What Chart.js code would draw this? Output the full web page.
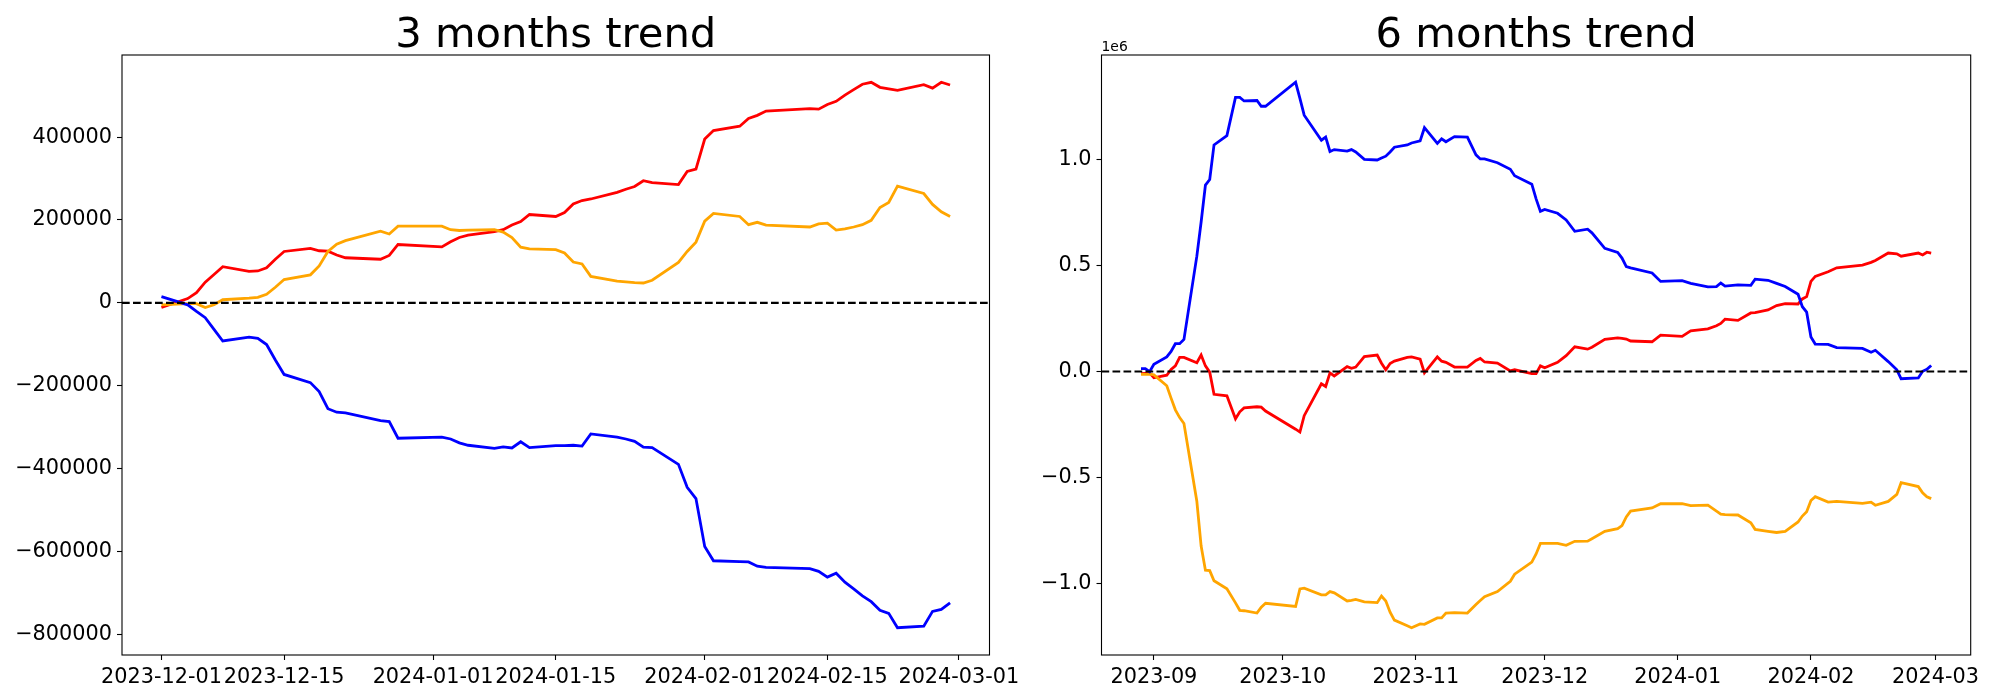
<!DOCTYPE html>
<html>
<head>
<meta charset="utf-8">
<script src="https://cdn.jsdelivr.net/npm/chart.js@4.4.1/dist/chart.umd.min.js"></script>
<style>
  html, body { margin: 0; padding: 0; background: #fff; }
  body { width: 2000px; height: 700px; position: relative; overflow: hidden; }
  canvas { position: absolute; top: 0; }
  #left { left: 0; }
  #right { left: 1000px; }
</style>
</head>
<body>
<canvas id="left" width="1040" height="700"></canvas>
<canvas id="right" width="1000" height="700"></canvas>
<script>
// ---- 3 months ----
const dates3m = [
  '2023-12-01', '2023-12-04', '2023-12-05', '2023-12-06', '2023-12-07', '2023-12-08',
  '2023-12-11', '2023-12-12', '2023-12-13', '2023-12-14', '2023-12-15',
  '2023-12-18', '2023-12-19', '2023-12-20', '2023-12-21', '2023-12-22',
  '2023-12-26', '2023-12-27', '2023-12-28',
  '2024-01-02', '2024-01-03', '2024-01-04', '2024-01-05',
  '2024-01-08', '2024-01-09', '2024-01-10', '2024-01-11', '2024-01-12',
  '2024-01-15', '2024-01-16', '2024-01-17', '2024-01-18', '2024-01-19',
  '2024-01-22', '2024-01-23', '2024-01-24', '2024-01-25', '2024-01-26',
  '2024-01-29', '2024-01-30', '2024-01-31', '2024-02-01', '2024-02-02',
  '2024-02-05', '2024-02-06', '2024-02-07', '2024-02-08',
  '2024-02-13', '2024-02-14', '2024-02-15', '2024-02-16', '2024-02-17', '2024-02-18',
  '2024-02-19', '2024-02-20', '2024-02-21', '2024-02-22', '2024-02-23',
  '2024-02-26', '2024-02-27', '2024-02-28', '2024-02-29'
];
const red3m = [
  -11300, 10300, 24400, 49800, 68500, 87300,
  76100, 77000, 84500, 105200, 124000,
  131500, 125800, 124900, 115500, 108900,
  105200, 114500, 140900,
  135200, 147400, 157800, 163400,
  171800, 176500, 187800, 196300, 213200,
  208500, 217900, 238500, 247000, 250700,
  266700, 274200, 280800, 294800, 290200,
  285500, 317400, 323000, 395300, 416000,
  426300, 445000, 452600, 462900,
  468600, 467600, 478900, 486400, 501400, 514600,
  527700, 532400, 520200, 516500, 512700,
  526800, 518300, 532400, 525800
];
const orange3m = [
  -4700, -1900, -1900, -11300, -4700, 7500,
  11300, 13100, 20700, 37600, 56300,
  67600, 89200, 124000, 141800, 150200,
  172800, 166200, 185000,
  185000, 176500, 174700, 175600,
  176500, 170900, 157800, 134300, 130500,
  128600, 120200, 98600, 93900, 63900,
  52600, 50700, 48800, 47900, 54500,
  97700, 124000, 146500, 197200, 216000,
  208500, 188700, 194400, 187800,
  183100, 190600, 192500, 175600, 178400, 183100,
  188700, 199100, 230000, 242300, 281700,
  263900, 237600, 219700, 208500
];
const blue3m = [
  15000, -4700, -20700, -35700, -63900, -92000,
  -82600, -85400, -100500, -138000, -172800,
  -192500, -214100, -255400, -263900, -265700,
  -284500, -286400, -326800,
  -324000, -328600, -338000, -343700,
  -351200, -347400, -350200, -335200, -349300,
  -344600, -344600, -343700, -345600, -316400,
  -324000, -328600, -334300, -348400, -349300,
  -389700, -445100, -472300, -587800, -622500,
  -624400, -625400, -635700, -638500,
  -641300, -647900, -662000, -652600, -674200, -690200,
  -707100, -721200, -741800, -749300, -784100,
  -780300, -744700, -740000, -724000
];
const xTicks3m = ['2023-12-01', '2023-12-15', '2024-01-01', '2024-01-15', '2024-02-01', '2024-02-15', '2024-03-01'];
const yTicks3m = [-800000, -600000, -400000, -200000, 0, 200000, 400000];
const yLabels3m = ['\u2212800000', '\u2212600000', '\u2212400000', '\u2212200000', '0', '200000', '400000'];

// ---- 6 months ----
const dates6m = [
  '2023-08-29', '2023-08-30', '2023-08-31', '2023-09-01',
  '2023-09-04', '2023-09-05', '2023-09-06', '2023-09-07', '2023-09-08',
  '2023-09-11', '2023-09-12', '2023-09-13', '2023-09-14', '2023-09-15',
  '2023-09-18', '2023-09-20', '2023-09-21', '2023-09-22',
  '2023-09-25', '2023-09-26', '2023-09-27',
  '2023-10-04', '2023-10-05', '2023-10-06',
  '2023-10-10', '2023-10-11', '2023-10-12', '2023-10-13',
  '2023-10-16', '2023-10-17', '2023-10-18', '2023-10-20',
  '2023-10-23', '2023-10-24', '2023-10-25', '2023-10-26', '2023-10-27',
  '2023-10-30', '2023-10-31', '2023-11-02', '2023-11-03',
  '2023-11-06', '2023-11-07', '2023-11-08', '2023-11-10',
  '2023-11-13', '2023-11-15', '2023-11-16', '2023-11-17',
  '2023-11-20', '2023-11-23', '2023-11-24',
  '2023-11-28', '2023-11-29', '2023-11-30', '2023-12-01',
  '2023-12-04', '2023-12-06', '2023-12-08',
  '2023-12-11', '2023-12-12', '2023-12-15',
  '2023-12-18', '2023-12-19', '2023-12-20', '2023-12-21',
  '2023-12-26', '2023-12-28',
  '2024-01-02', '2024-01-04', '2024-01-08', '2024-01-10', '2024-01-11', '2024-01-12',
  '2024-01-15', '2024-01-18', '2024-01-19',
  '2024-01-22', '2024-01-24', '2024-01-26',
  '2024-01-29', '2024-01-30', '2024-01-31', '2024-02-01', '2024-02-02',
  '2024-02-05', '2024-02-07',
  '2024-02-13', '2024-02-15', '2024-02-16',
  '2024-02-19', '2024-02-21', '2024-02-22',
  '2024-02-26', '2024-02-27', '2024-02-28', '2024-02-29'
];
const blue6m = [
  13400, 13400, -1300, 33500,
  68700, 94000, 130700, 130700, 150900,
  543000, 704000, 878000, 904000, 1067000,
  1111000, 1291000, 1291000, 1274000,
  1276000, 1249000, 1249000,
  1362000, 1286000, 1207000,
  1089000, 1104000, 1036000, 1045000,
  1038000, 1045000, 1034000, 999000,
  996000, 1005000, 1014000, 1034000, 1056000,
  1067000, 1076000, 1086000, 1148000,
  1074000, 1096000, 1082000, 1106000,
  1104000, 1020000, 1001000, 1001000,
  983000, 952000, 922000,
  882000, 813000, 754000, 763000,
  745000, 713600, 660000,
  670000, 653000, 580000,
  561000, 534000, 494000, 488000,
  464000, 424000,
  428000, 415000, 398600, 400000, 416600, 402000,
  407500, 405600, 434900,
  429400, 414700, 400000,
  363400, 304800, 279200, 161900, 129000,
  127200, 112400,
  108800, 90500, 99600,
  46400, 7900, -34300,
  -30600, 500, 9700, 28000
];
const red6m = [
  -10400, -8600, -6800, -30000,
  -17800, 9700, 26200, 66500, 66500,
  40900, 77500, 26200, -3100, -107500,
  -114800, -223000, -190000, -171800,
  -166300, -168000, -186300,
  -272000, -285400, -208300,
  -57800, -70700, -6800, -21400,
  22500, 15200, 20700, 70200,
  77500, 39000, 7900, 37600, 48600,
  66500, 68400, 57400, -6800,
  68400, 48200, 42700, 20700,
  20700, 51900, 61100, 44600,
  39000, 2400, 7900,
  -10400, -10400, 26200, 17000,
  42700, 74300, 116000,
  105000, 114000, 150900,
  158000, 156000, 152700, 143500,
  139900, 171000,
  165500, 191000, 200300, 215000, 226000, 246000,
  240700, 275500, 277300,
  290000, 310300, 319500,
  317600, 341500, 352500, 424000, 447800,
  469800, 488000,
  501000, 513700, 523000,
  557800, 554000, 543000,
  557800, 548600, 561500, 557800
];
const orange6m = [
  -14100, -14100, -12300, -15900,
  -67300, -125700, -180700, -217400, -244900,
  -611500, -822300, -936000, -938000, -985600,
  -1024000, -1090000, -1125000, -1127000,
  -1138000, -1110000, -1092000,
  -1107000, -1024000, -1021000,
  -1052000, -1052000, -1037000, -1043000,
  -1081000, -1078000, -1074000, -1085000,
  -1089000, -1058000, -1081000, -1134000, -1171000,
  -1198000, -1207000, -1189000, -1191000,
  -1161000, -1161000, -1138000, -1136000,
  -1138000, -1098000, -1079000, -1061000,
  -1037000, -988000, -955000,
  -898000, -859600, -810000, -810000,
  -810000, -819000, -800000,
  -799000, -787800, -753000,
  -740000, -725700, -685000, -657600,
  -643000, -623000,
  -623000, -632000, -630000, -657600, -672000, -674000,
  -676000, -712500, -743700,
  -752900, -758400, -752900,
  -708900, -681000, -661000, -608000, -589800,
  -615500, -612000,
  -621000, -615500, -630000,
  -612000, -579000, -524000,
  -542400, -571600, -589900, -599000
];
const xTicks6m = ['2023-09', '2023-10', '2023-11', '2023-12', '2024-01', '2024-02', '2024-03'];
const yTicks6m = [-1000000, -500000, 0, 500000, 1000000];
const yLabels6m = ['\u22121.0', '\u22120.5', '0.0', '0.5', '1.0'];

// date string -> day number, so the x axis can stay linear (no date adapter)
function dayNum(s) {
  const p = s.split('-').map(Number);
  return Date.UTC(p[0], p[1] - 1, p[2] || 1) / 86400000;
}

const tickFont = { family: 'DejaVu Sans', size: 20.8 };

// frame, dashed zero line, title and offset text, like matplotlib
const framePlugin = {
  id: 'frame',
  afterDatasetsDraw(chart, args, opts) {
    const { ctx, chartArea: a, scales } = chart;
    ctx.save();
    const y0 = scales.y.getPixelForValue(0);
    ctx.strokeStyle = '#000';
    ctx.lineWidth = 2.08;
    ctx.setLineDash([7.7, 3.3]);
    ctx.beginPath();
    ctx.moveTo(a.left, y0);
    ctx.lineTo(a.right, y0);
    ctx.stroke();
    ctx.setLineDash([]);
    ctx.lineWidth = 1.1;
    ctx.strokeRect(a.left, a.top, a.right - a.left, a.bottom - a.top);

    ctx.fillStyle = '#000';
    ctx.textBaseline = 'alphabetic';
    ctx.textAlign = 'center';
    ctx.font = '41.7px "DejaVu Sans"';
    ctx.fillText(opts.title, (a.left + a.right) / 2, a.top - 8.3);
    if (opts.offset) {
      ctx.textAlign = 'left';
      ctx.font = '13.9px "DejaVu Sans"';
      ctx.fillText(opts.offset, a.left, a.top - 4);
    }
    ctx.restore();
  }
};

function makeChart(id, cfg) {
  const xs = cfg.dates.map(dayNum);
  const xMin = Math.min(...xs), xMax = Math.max(...xs);
  const all = cfg.series.flatMap((s) => s.values);
  const yMin = Math.min(...all), yMax = Math.max(...all);
  const xPad = (xMax - xMin) * 0.05, yPad = (yMax - yMin) * 0.05;

  const grid = { drawOnChartArea: false, drawTicks: true, tickLength: 5, tickWidth: 1.1, tickColor: '#000' };

  return new Chart(document.getElementById(id), {
    type: 'line',
    data: {
      datasets: cfg.series.map((s) => ({
        data: xs.map((x, i) => ({ x: x, y: s.values[i] })),
        borderColor: s.color,
        borderWidth: 2.8,
        pointRadius: 0,
        tension: 0,
        fill: false,
        order: s.order,
      })),
    },
    options: {
      responsive: false,
      animation: false,
      devicePixelRatio: 1,
      layout: { padding: { left: 0, top: 55, right: cfg.padRight, bottom: 0 } },
      plugins: {
        legend: { display: false },
        tooltip: { enabled: false },
        frame: { title: cfg.title, offset: cfg.offset },
      },
      scales: {
        x: {
          type: 'linear',
          min: xMin - xPad,
          max: xMax + xPad,
          afterBuildTicks: (s) => { s.ticks = cfg.xTicks.map((t) => ({ value: dayNum(t) })); },
          afterFit: (s) => { s.height = 45; },
          ticks: {
            autoSkip: false, maxRotation: 0, padding: 5, color: '#000', font: tickFont,
            callback: (v, i) => cfg.xTicks[i],
          },
          grid: grid,
          border: { display: false },
        },
        y: {
          type: 'linear',
          min: yMin - yPad,
          max: yMax + yPad,
          afterBuildTicks: (s) => { s.ticks = cfg.yTicks.map((v) => ({ value: v })); },
          afterFit: (s) => { s.width = cfg.yWidth; },
          ticks: {
            padding: 5, color: '#000', font: tickFont,
            callback: (v, i) => cfg.yLabels[i],
          },
          grid: grid,
          border: { display: false },
        },
      },
    },
    plugins: [framePlugin],
  });
}

makeChart('left', {
  title: '3 months trend',
  dates: dates3m,
  series: [
    { values: red3m, color: '#ff0000', order: 3 },
    { values: orange3m, color: '#ffa500', order: 2 },
    { values: blue3m, color: '#0000ff', order: 1 },
  ],
  xTicks: xTicks3m, yTicks: yTicks3m, yLabels: yLabels3m,
  yWidth: 122, padRight: 50.5,
});

makeChart('right', {
  title: '6 months trend',
  offset: '1e6',
  dates: dates6m,
  series: [
    { values: red6m, color: '#ff0000', order: 3 },
    { values: orange6m, color: '#ffa500', order: 2 },
    { values: blue6m, color: '#0000ff', order: 1 },
  ],
  xTicks: xTicks6m, yTicks: yTicks6m, yLabels: yLabels6m,
  yWidth: 101.5, padRight: 29.3,
});
</script>
</body>
</html>
